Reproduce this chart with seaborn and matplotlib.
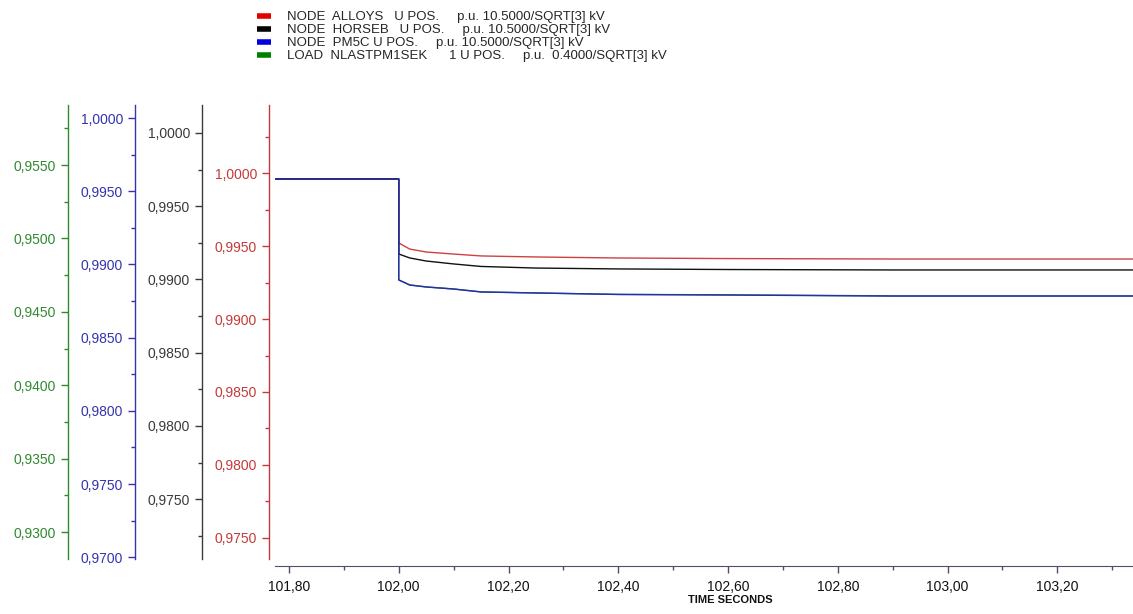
"""Node voltages (p.u.) after the disturbance at t = 102.00 s"""

import matplotlib
matplotlib.use("Agg")
import matplotlib.pyplot as plt
from matplotlib.lines import Line2D
from matplotlib.ticker import MultipleLocator, FuncFormatter
import seaborn as sns

# Values (time in seconds, voltage in p.u.)
time_s = [101.775, 102.00, 102.00, 102.02, 102.05, 102.10, 102.15, 102.25, 102.40, 102.60, 102.90, 103.34]
alloys = [0.99959, 0.99959, 0.99521, 0.99479, 0.99459, 0.99445, 0.99432, 0.99425, 0.99418, 0.99414, 0.99411, 0.99411]
horseb = [0.99686, 0.99686, 0.99174, 0.99147, 0.99126, 0.99106, 0.99089, 0.99078, 0.99072, 0.99068, 0.99065, 0.99065]
pm5c = [0.99583, 0.99583, 0.98894, 0.98859, 0.98846, 0.98832, 0.98812, 0.98805, 0.98795, 0.98791, 0.98784, 0.98784]
nlast = [0.95405, 0.95405, 0.94718, 0.94684, 0.94670, 0.94656, 0.94636, 0.94629, 0.94619, 0.94616, 0.94609, 0.94609]

labels = [
    "NODE  ALLOYS   U POS.     p.u. 10.5000/SQRT[3] kV",
    "NODE  HORSEB   U POS.     p.u. 10.5000/SQRT[3] kV",
    "NODE  PM5C U POS.     p.u. 10.5000/SQRT[3] kV",
    "LOAD  NLASTPM1SEK      1 U POS.     p.u.  0.4000/SQRT[3] kV",
]

sns.set_style("white")
plt.rcParams["font.family"] = ["Liberation Sans", "DejaVu Sans"]


def comma4(v, pos):
    return f"{v:.4f}".replace(".", ",")


def comma2(v, pos):
    return f"{v:.2f}".replace(".", ",")


fig = plt.figure(figsize=(11.33, 6.14), dpi=100)
ax = fig.add_axes([275 / 1133, 1 - 559 / 614, 858 / 1133, 454 / 614])
# twins created in drawing order: green below, blue on top
ax_green = ax.twinx()
ax_black = ax.twinx()
ax_blue = ax.twinx()
ax_red = ax

axes_spec = [
    # axis, limits, colour, offset in px
    (ax_red, (0.97356, 1.00466), "#c43a3a", 6),
    (ax_black, (0.97092, 1.00191), "#3a3a3a", 73),
    (ax_blue, (0.96988, 1.00089), "#3434b0", 140),
    (ax_green, (0.92817, 0.95909), "#2f8a2f", 207),
]

for a, lims, col, off in axes_spec:
    a.set_ylim(*lims)
    for s in ["top", "right", "bottom"]:
        a.spines[s].set_visible(False)
    a.spines["left"].set_visible(True)
    a.spines["left"].set_color(col)
    a.spines["left"].set_linewidth(1.0)
    a.spines["left"].set_position(("outward", off * 0.72))
    a.yaxis.set_ticks_position("left")
    a.yaxis.set_major_locator(MultipleLocator(0.005))
    a.yaxis.set_minor_locator(MultipleLocator(0.0025))
    a.yaxis.set_major_formatter(FuncFormatter(comma4))
    a.tick_params(axis="y", which="both", left=True, right=False, direction="out",
                  colors=col, labelsize=10, pad=3.5)
    a.tick_params(axis="y", which="major", length=5, width=1)
    a.tick_params(axis="y", which="minor", length=3.2, width=1)
    a.set_ylabel("")

sns.lineplot(x=time_s, y=nlast, ax=ax_green, color="#1f8a1f", linewidth=1.0,
             estimator=None, sort=False)
sns.lineplot(x=time_s, y=alloys, ax=ax_red, color="#d04040", linewidth=1.0,
             estimator=None, sort=False)
sns.lineplot(x=time_s, y=horseb, ax=ax_black, color="#111111", linewidth=1.0,
             estimator=None, sort=False)
sns.lineplot(x=time_s, y=pm5c, ax=ax_blue, color="#2a2ab8", linewidth=1.0,
             estimator=None, sort=False)

# x axis
ax.set_xlim(101.7745, 103.338)
ax.spines["bottom"].set_visible(True)
ax.spines["bottom"].set_color("#5a4a6a")
ax.spines["bottom"].set_position(("outward", 7 * 0.72))
ax.xaxis.set_major_locator(MultipleLocator(0.2))
ax.xaxis.set_minor_locator(MultipleLocator(0.1))
ax.xaxis.set_major_formatter(FuncFormatter(comma2))
ax.tick_params(axis="x", which="both", bottom=True, direction="out",
               labelsize=10, labelcolor="#111111", color="#5a4a6a", pad=5)
ax.tick_params(axis="x", which="major", length=5, width=1)
ax.tick_params(axis="x", which="minor", length=3, width=1)
ax.set_xlabel("")
fig.text(730 / 1133, 1 - 600 / 614, "TIME SECONDS", ha="center", va="center",
         fontsize=8, fontweight="bold", color="#111111")

# legend at the top
handle_cols = ["#e00000", "#000000", "#0000e0", "#008000"]
handles = [Line2D([0], [0], color=c, linewidth=4, solid_capstyle="butt") for c in handle_cols]
fig.legend(handles, labels, loc="upper left", bbox_to_anchor=(257 / 1133, 1 - 11 / 614),
           frameon=False, fontsize=9.5, handlelength=1.05, handletextpad=1.25,
           labelspacing=0.06, borderaxespad=0, borderpad=0)

fig.savefig("out.png", dpi=100)
